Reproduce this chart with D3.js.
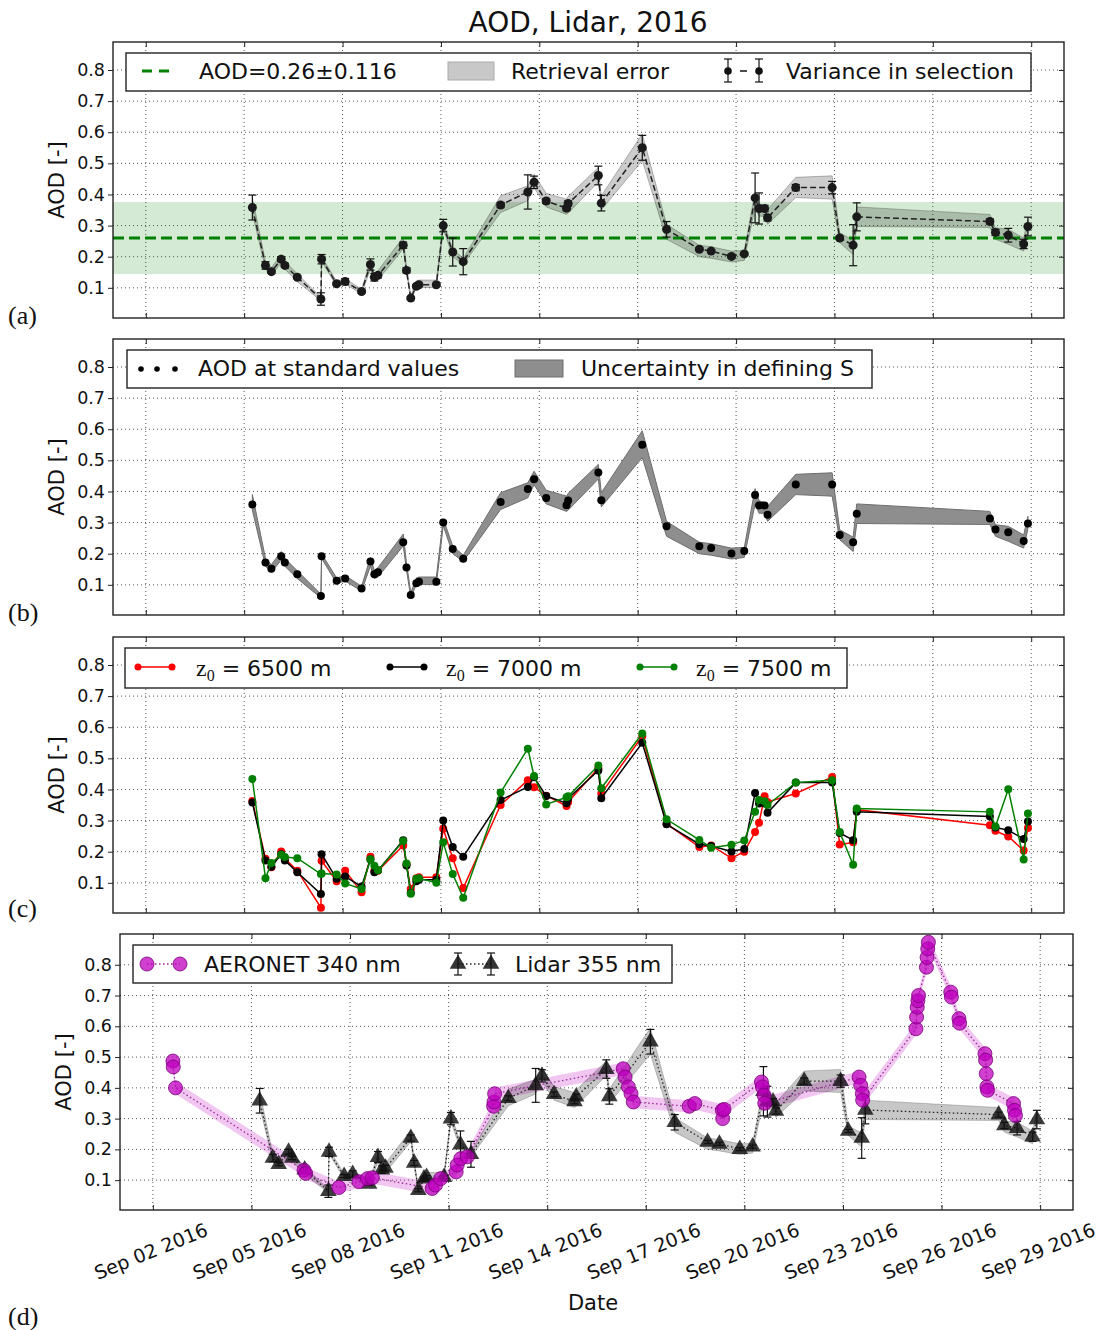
<!DOCTYPE html>
<html>
<head>
<meta charset="utf-8">
<script src="https://cdn.jsdelivr.net/npm/d3@7"></script>
<style>
  body { margin: 0; background: #fff; }
  svg { font-family: "DejaVu Sans", sans-serif; }
</style>
</head>
<body>
<svg id="chart" width="1100" height="1330"></svg>
<script>
// lidar retrievals, fractional day of September 2016
const lidarDay = [5.25, 5.65, 5.83, 6.13, 6.24, 6.62, 7.34, 7.36, 7.82, 8.08,
  8.58, 8.85, 8.97, 9.08, 9.85, 9.95, 10.08, 10.25, 10.33, 10.86,
  11.07, 11.36, 11.68, 12.82, 13.65, 13.84, 14.21, 14.83, 14.88, 15.80,
  15.89, 17.14, 17.88, 18.88, 19.24, 19.86, 20.25, 20.58, 20.70, 20.87,
  20.96, 21.82, 22.93, 23.16, 23.57, 23.68, 27.74, 27.91, 28.30, 28.77, 28.90];
// z0 = 7000 m (standard)
const lidarAod = [0.358, 0.172, 0.152, 0.192, 0.172, 0.134, 0.064, 0.192, 0.113, 0.120,
  0.088, 0.175, 0.134, 0.140, 0.237, 0.156, 0.067, 0.105, 0.110, 0.110,
  0.300, 0.215, 0.184, 0.366, 0.408, 0.439, 0.379, 0.356, 0.371, 0.461,
  0.372, 0.550, 0.288, 0.224, 0.218, 0.201, 0.209, 0.389, 0.355, 0.355,
  0.325, 0.422, 0.422, 0.260, 0.237, 0.328, 0.313, 0.278, 0.269, 0.241, 0.297];
const lidarVar = [0.040, 0.012, 0.005, 0.008, 0.005, 0.005, 0.020, 0.015, 0.005, 0.010,
  0.005, 0.018, 0.012, 0.008, 0.010, 0.008, 0.005, 0.005, 0.005, 0.005,
  0.020, 0.045, 0.042, 0.008, 0.055, 0.020, 0.008, 0.008, 0.008, 0.030,
  0.025, 0.040, 0.025, 0.005, 0.005, 0.005, 0.005, 0.080, 0.050, 0.010,
  0.010, 0.010, 0.020, 0.005, 0.066, 0.045, 0.008, 0.010, 0.022, 0.015, 0.030];
const errLow = [0.340, 0.160, 0.140, 0.180, 0.160, 0.120, 0.058, 0.185, 0.105, 0.112,
  0.080, 0.160, 0.120, 0.125, 0.225, 0.148, 0.060, 0.100, 0.102, 0.100,
  0.290, 0.200, 0.175, 0.342, 0.380, 0.422, 0.360, 0.336, 0.340, 0.440,
  0.350, 0.509, 0.256, 0.200, 0.195, 0.183, 0.188, 0.360, 0.330, 0.330,
  0.304, 0.390, 0.385, 0.245, 0.207, 0.297, 0.294, 0.256, 0.240, 0.218, 0.280];
const errHigh = [0.390, 0.185, 0.165, 0.207, 0.185, 0.145, 0.070, 0.200, 0.122, 0.130,
  0.095, 0.188, 0.145, 0.155, 0.263, 0.170, 0.075, 0.122, 0.125, 0.125,
  0.312, 0.225, 0.195, 0.396, 0.428, 0.465, 0.404, 0.385, 0.394, 0.487,
  0.396, 0.595, 0.304, 0.237, 0.232, 0.218, 0.220, 0.409, 0.370, 0.365,
  0.352, 0.455, 0.460, 0.277, 0.253, 0.360, 0.336, 0.293, 0.288, 0.260, 0.320];
const aod6500 = [0.363, 0.177, 0.150, 0.201, 0.178, 0.139, 0.020, 0.171, 0.105, 0.139,
  0.070, 0.184, 0.139, 0.139, 0.220, 0.160, 0.080, 0.115, 0.118, 0.118,
  0.274, 0.179, 0.083, 0.350, 0.430, 0.407, 0.380, 0.347, 0.360, 0.468,
  0.387, 0.571, 0.290, 0.215, 0.220, 0.179, 0.200, 0.263, 0.293, 0.378,
  0.360, 0.387, 0.440, 0.223, 0.230, 0.335, 0.285, 0.267, 0.249, 0.204, 0.276];
const aod7500 = [0.434, 0.115, 0.164, 0.190, 0.183, 0.179, 0.128, 0.130, 0.127, 0.098,
  0.080, 0.176, 0.155, 0.140, 0.234, 0.162, 0.065, 0.113, 0.115, 0.100,
  0.230, 0.128, 0.052, 0.390, 0.531, 0.443, 0.352, 0.375, 0.378, 0.477,
  0.404, 0.580, 0.304, 0.238, 0.213, 0.222, 0.236, 0.328, 0.366, 0.362,
  0.350, 0.422, 0.430, 0.263, 0.158, 0.339, 0.328, 0.281, 0.401, 0.175, 0.323];

// AERONET 340 nm
const aeronetDay = [2.61, 2.62, 2.69, 6.60, 6.65, 7.66, 8.27, 8.53, 8.68, 10.50,
  10.60, 10.76, 11.23, 11.26, 11.37, 11.57, 12.37, 12.38, 12.40, 16.31,
  16.37, 16.47, 16.55, 16.62, 18.32, 18.49, 19.33, 19.34, 19.38, 20.52,
  20.55, 20.60, 20.62, 23.49, 23.54, 23.59, 23.60, 25.22, 25.24, 25.26,
  25.28, 25.30, 25.54, 25.56, 25.58, 25.60, 26.28, 26.30, 26.53, 26.55,
  27.32, 27.34, 27.36, 27.38, 27.40, 28.19, 28.22, 28.25];
const aeronetAod = [0.487, 0.468, 0.400, 0.132, 0.122, 0.076, 0.095, 0.105, 0.108, 0.073,
  0.084, 0.105, 0.127, 0.149, 0.170, 0.176, 0.340, 0.354, 0.381, 0.462,
  0.435, 0.403, 0.381, 0.354, 0.340, 0.349, 0.327, 0.300, 0.330, 0.419,
  0.403, 0.376, 0.350, 0.435, 0.408, 0.381, 0.360, 0.592, 0.630, 0.662,
  0.683, 0.700, 0.792, 0.824, 0.852, 0.873, 0.711, 0.695, 0.625, 0.610,
  0.511, 0.490, 0.446, 0.403, 0.392, 0.349, 0.327, 0.310];
const aeronetErr = 0.02;

const meanAod = 0.26, stdAod = 0.116;
const tickDays = [2, 5, 8, 11, 14, 17, 20, 23, 26, 29];
const tickLabels = ["Sep 02 2016", "Sep 05 2016", "Sep 08 2016", "Sep 11 2016", "Sep 14 2016",
  "Sep 17 2016", "Sep 20 2016", "Sep 23 2016", "Sep 26 2016", "Sep 29 2016"];
const yTicks = [0.1, 0.2, 0.3, 0.4, 0.5, 0.6, 0.7, 0.8];

const dayToDate = d => new Date(Date.UTC(2016, 8, 1) + (d - 1) * 864e5);
const lidar = lidarDay.map((d, i) => ({
  date: dayToDate(d), v: lidarAod[i], e: lidarVar[i], lo: errLow[i], hi: errHigh[i],
  r: aod6500[i], g: aod7500[i]
}));
const aeronet = aeronetDay.map((d, i) => ({ date: dayToDate(d), v: aeronetAod[i] }));

const svg = d3.select("#chart");

function makePanel(id, box, yMax) {
  const x = d3.scaleUtc().domain([dayToDate(1), dayToDate(30)]).range([box.left, box.right]);
  const y = d3.scaleLinear().domain([0.003, yMax]).range([box.bottom, box.top]);
  const root = svg.append("g");
  root.append("clipPath").attr("id", "clip-" + id)
    .append("rect").attr("x", box.left).attr("y", box.top)
    .attr("width", box.right - box.left).attr("height", box.bottom - box.top);

  // grid
  const grid = root.append("g").attr("stroke", "#555").attr("stroke-width", 1)
    .attr("stroke-dasharray", "1,3");
  grid.selectAll(".gx").data(tickDays).enter().append("line")
    .attr("x1", d => x(dayToDate(d))).attr("x2", d => x(dayToDate(d)))
    .attr("y1", box.top).attr("y2", box.bottom);
  grid.selectAll(".gy").data(yTicks).enter().append("line")
    .attr("x1", box.left).attr("x2", box.right)
    .attr("y1", d => y(d)).attr("y2", d => y(d));

  const plot = root.append("g").attr("clip-path", `url(#clip-${id})`);
  return { root, plot, x, y, box };
}

function finishPanel(p, label, labelY) {
  const { root, x, y, box } = p;
  const ax = root.append("g");
  const left = ax.append("g").attr("transform", `translate(${box.left},0)`)
    .call(d3.axisLeft(y).tickValues(yTicks).tickSize(5).tickPadding(3).tickFormat(d3.format(".1f")));
  left.select(".domain").remove();
  left.selectAll("text").attr("font-size", 17.5).attr("font-family", "DejaVu Sans").attr("fill", "#111");
  left.selectAll("line").attr("stroke", "#222");
  const right = ax.append("g").attr("transform", `translate(${box.right},0)`)
    .call(d3.axisRight(y).tickValues(yTicks).tickSize(-5).tickFormat(""));
  right.select(".domain").remove();
  const xt = tickDays.map(dayToDate);
  const top = ax.append("g").attr("transform", `translate(0,${box.top})`)
    .call(d3.axisTop(x).tickValues(xt).tickSize(-5).tickFormat(""));
  top.select(".domain").remove();
  const bot = ax.append("g").attr("transform", `translate(0,${box.bottom})`)
    .call(d3.axisBottom(x).tickValues(xt).tickSize(-5).tickFormat(""));
  bot.select(".domain").remove();
  ax.selectAll("line").attr("stroke", "#222");

  root.append("rect").attr("x", box.left).attr("y", box.top)
    .attr("width", box.right - box.left).attr("height", box.bottom - box.top)
    .attr("fill", "none").attr("stroke", "#222").attr("stroke-width", 1.4);

  const cy = (box.top + box.bottom) / 2;
  root.append("text").attr("transform", `translate(${box.left - 49},${cy}) rotate(-90)`)
    .attr("text-anchor", "middle").attr("font-size", 21).attr("fill", "#111").text("AOD [-]");

  root.append("text").attr("x", 8).attr("y", labelY)
    .attr("font-family", "Liberation Serif, serif").attr("font-size", 26).attr("fill", "#111").text(label);
}

function errorBars(g, data, x, y, cap) {
  const eb = g.append("g").attr("stroke", "#111").attr("stroke-width", 1.2);
  data.forEach(d => {
    const cx = x(d.date);
    eb.append("line").attr("x1", cx).attr("x2", cx).attr("y1", y(d.v - d.e)).attr("y2", y(d.v + d.e));
    eb.append("line").attr("x1", cx - cap).attr("x2", cx + cap).attr("y1", y(d.v - d.e)).attr("y2", y(d.v - d.e));
    eb.append("line").attr("x1", cx - cap).attr("x2", cx + cap).attr("y1", y(d.v + d.e)).attr("y2", y(d.v + d.e));
  });
}

function legendBox(x0, y0, w, h) {
  svg.append("rect").attr("x", x0).attr("y", y0).attr("width", w).attr("height", h)
    .attr("fill", "#fff").attr("stroke", "#222").attr("stroke-width", 1.4);
}
function legendText(x0, y0, t) {
  return svg.append("text").attr("x", x0).attr("y", y0).attr("font-size", 22).attr("fill", "#111").text(t);
}

// title
svg.append("text").attr("x", 588).attr("y", 32).attr("text-anchor", "middle")
  .attr("font-size", 28).attr("fill", "#111").text("AOD, Lidar, 2016");

// ---------- (a)
const pa = makePanel("a", { left: 113, right: 1064, top: 42, bottom: 318 }, 0.89);
pa.plot.append("rect").attr("x", pa.box.left).attr("width", pa.box.right - pa.box.left)
  .attr("y", pa.y(meanAod + stdAod)).attr("height", pa.y(meanAod - stdAod) - pa.y(meanAod + stdAod))
  .attr("fill", "#008000").attr("fill-opacity", 0.17);
pa.plot.append("path").datum(lidar)
  .attr("d", d3.area().x(d => pa.x(d.date)).y0(d => pa.y(d.lo)).y1(d => pa.y(d.hi)))
  .attr("fill", "#000").attr("fill-opacity", 0.2).attr("stroke", "#000").attr("stroke-opacity", 0.25);
pa.plot.append("line").attr("x1", pa.box.left).attr("x2", pa.box.right)
  .attr("y1", pa.y(meanAod)).attr("y2", pa.y(meanAod))
  .attr("stroke", "#008000").attr("stroke-width", 3).attr("stroke-dasharray", "11,5");
pa.plot.append("path").datum(lidar)
  .attr("d", d3.line().x(d => pa.x(d.date)).y(d => pa.y(d.v)))
  .attr("fill", "none").attr("stroke", "#222").attr("stroke-width", 1.5).attr("stroke-dasharray", "6,3");
errorBars(pa.plot, lidar, pa.x, pa.y, 4);
pa.plot.selectAll(".pt").data(lidar).enter().append("circle")
  .attr("cx", d => pa.x(d.date)).attr("cy", d => pa.y(d.v)).attr("r", 4.5).attr("fill", "#1a1a1a");
finishPanel(pa, "(a)", 324);

legendBox(126, 53, 905, 38);
svg.append("line").attr("x1", 142).attr("x2", 172).attr("y1", 71).attr("y2", 71)
  .attr("stroke", "#008000").attr("stroke-width", 3).attr("stroke-dasharray", "10,7");
legendText(199, 79, "AOD=0.26\u00b10.116");
svg.append("rect").attr("x", 448).attr("y", 62).attr("width", 46).attr("height", 18)
  .attr("fill", "#c8c8c8").attr("stroke", "#aaa");
legendText(511, 79, "Retrieval error");
[728, 759].forEach(cx => {
  svg.append("line").attr("x1", cx).attr("x2", cx).attr("y1", 59).attr("y2", 82).attr("stroke", "#111").attr("stroke-width", 1.2);
  svg.append("line").attr("x1", cx - 4).attr("x2", cx + 4).attr("y1", 59).attr("y2", 59).attr("stroke", "#111").attr("stroke-width", 1.2);
  svg.append("line").attr("x1", cx - 4).attr("x2", cx + 4).attr("y1", 82).attr("y2", 82).attr("stroke", "#111").attr("stroke-width", 1.2);
  svg.append("circle").attr("cx", cx).attr("cy", 71).attr("r", 3.8).attr("fill", "#111");
});
svg.append("line").attr("x1", 740).attr("x2", 747).attr("y1", 71).attr("y2", 71).attr("stroke", "#111").attr("stroke-width", 1.5);
legendText(786, 79, "Variance in selection");

// ---------- (b)
const pb = makePanel("b", { left: 113, right: 1064, top: 339, bottom: 615 }, 0.89);
pb.plot.append("path").datum(lidar)
  .attr("d", d3.area().x(d => pb.x(d.date)).y0(d => pb.y(d.lo)).y1(d => pb.y(d.hi)))
  .attr("fill", "#8e8e8e").attr("stroke", "#6e6e6e").attr("stroke-width", 1);
pb.plot.selectAll(".pt").data(lidar).enter().append("circle")
  .attr("cx", d => pb.x(d.date)).attr("cy", d => pb.y(d.v)).attr("r", 4).attr("fill", "#000");
finishPanel(pb, "(b)", 621);

legendBox(127, 350, 745, 38);
[141, 157, 175].forEach(cx => svg.append("circle").attr("cx", cx).attr("cy", 369).attr("r", 2.8).attr("fill", "#000"));
legendText(198, 376, "AOD at standard values");
svg.append("rect").attr("x", 515).attr("y", 360).attr("width", 48).attr("height", 17)
  .attr("fill", "#8e8e8e").attr("stroke", "#6e6e6e");
legendText(581, 376, "Uncertainty in defining S");

// ---------- (c)
const pc = makePanel("c", { left: 113, right: 1064, top: 637, bottom: 913 }, 0.89);
const series = [
  { key: "r", color: "#ff0000" },
  { key: "v", color: "#000000" },
  { key: "g", color: "#008000" }
];
series.forEach(s => {
  pc.plot.append("path").datum(lidar)
    .attr("d", d3.line().x(d => pc.x(d.date)).y(d => pc.y(d[s.key])))
    .attr("fill", "none").attr("stroke", s.color).attr("stroke-width", 1.5);
  pc.plot.selectAll(".p" + s.key).data(lidar).enter().append("circle")
    .attr("cx", d => pc.x(d.date)).attr("cy", d => pc.y(d[s.key])).attr("r", 4).attr("fill", s.color);
});
finishPanel(pc, "(c)", 917);

legendBox(125, 648, 722, 40);
const legC = [
  { x: 138, color: "#ff0000", t: " = 6500 m", tx: 196 },
  { x: 390, color: "#000000", t: " = 7000 m", tx: 446 },
  { x: 640, color: "#008000", t: " = 7500 m", tx: 696 }
];
legC.forEach(l => {
  svg.append("line").attr("x1", l.x).attr("x2", l.x + 34).attr("y1", 667).attr("y2", 667)
    .attr("stroke", l.color).attr("stroke-width", 1.5);
  [l.x, l.x + 34].forEach(cx => svg.append("circle").attr("cx", cx).attr("cy", 667).attr("r", 3.5).attr("fill", l.color));
  const t = svg.append("text").attr("x", l.tx).attr("y", 676).attr("font-size", 22).attr("fill", "#111");
  t.append("tspan").attr("font-family", "Liberation Serif, serif").attr("font-size", 24).text("z");
  t.append("tspan").attr("font-family", "Liberation Serif, serif").attr("font-size", 16).attr("dy", 5).text("0");
  t.append("tspan").attr("dy", -5).text("  = " + l.t.replace(" = ", ""));
});

// ---------- (d)
const pd = makePanel("d", { left: 120, right: 1073, top: 934, bottom: 1210 }, 0.9);
pd.plot.append("path").datum(aeronet)
  .attr("d", d3.area().x(d => pd.x(d.date)).y0(d => pd.y(d.v - aeronetErr)).y1(d => pd.y(d.v + aeronetErr)))
  .attr("fill", "#bf00bf").attr("fill-opacity", 0.22);
pd.plot.append("path").datum(lidar)
  .attr("d", d3.area().x(d => pd.x(d.date)).y0(d => pd.y(d.lo)).y1(d => pd.y(d.hi)))
  .attr("fill", "#000").attr("fill-opacity", 0.22).attr("stroke", "#000").attr("stroke-opacity", 0.2);
pd.plot.append("path").datum(aeronet)
  .attr("d", d3.line().x(d => pd.x(d.date)).y(d => pd.y(d.v)))
  .attr("fill", "none").attr("stroke", "#9a2a9a").attr("stroke-width", 1.3).attr("stroke-dasharray", "1.5,2.5");
pd.plot.append("path").datum(lidar)
  .attr("d", d3.line().x(d => pd.x(d.date)).y(d => pd.y(d.v)))
  .attr("fill", "none").attr("stroke", "#222").attr("stroke-width", 1.3).attr("stroke-dasharray", "1.5,2.5");
errorBars(pd.plot, lidar, pd.x, pd.y, 4);
const tri = d3.symbol().type(d3.symbolTriangle).size(120);
pd.plot.selectAll(".tri").data(lidar).enter().append("path")
  .attr("d", tri).attr("transform", d => `translate(${pd.x(d.date)},${pd.y(d.v)})`)
  .attr("fill", "#111").attr("fill-opacity", 0.82);
pd.plot.selectAll(".ae").data(aeronet).enter().append("circle")
  .attr("cx", d => pd.x(d.date)).attr("cy", d => pd.y(d.v)).attr("r", 7)
  .attr("fill", "#bf00bf").attr("fill-opacity", 0.75).attr("stroke", "#7a007a").attr("stroke-width", 0.8);
finishPanel(pd, "(d)", 1325);

// x tick labels under (d)
tickDays.forEach((d, i) => {
  svg.append("text")
    .attr("transform", `translate(${pd.x(dayToDate(d)) - 2},${1251}) rotate(-22)`)
    .attr("text-anchor", "middle").attr("dominant-baseline", "central")
    .attr("font-size", 19).attr("fill", "#111").text(tickLabels[i]);
});
svg.append("text").attr("x", 593).attr("y", 1310).attr("text-anchor", "middle")
  .attr("font-size", 21).attr("fill", "#111").text("Date");

legendBox(133, 945, 539, 38);
svg.append("line").attr("x1", 147).attr("x2", 180).attr("y1", 964).attr("y2", 964)
  .attr("stroke", "#9a2a9a").attr("stroke-width", 1.3).attr("stroke-dasharray", "1.5,2.5");
[147, 180].forEach(cx => svg.append("circle").attr("cx", cx).attr("cy", 964).attr("r", 7)
  .attr("fill", "#bf00bf").attr("fill-opacity", 0.75).attr("stroke", "#7a007a").attr("stroke-width", 0.8));
legendText(204, 972, "AERONET 340 nm");
svg.append("line").attr("x1", 458).attr("x2", 491).attr("y1", 964).attr("y2", 964)
  .attr("stroke", "#222").attr("stroke-width", 1.3).attr("stroke-dasharray", "1.5,2.5");
[458, 491].forEach(cx => {
  svg.append("line").attr("x1", cx).attr("x2", cx).attr("y1", 953).attr("y2", 975).attr("stroke", "#111").attr("stroke-width", 1.2);
  svg.append("line").attr("x1", cx - 4).attr("x2", cx + 4).attr("y1", 953).attr("y2", 953).attr("stroke", "#111").attr("stroke-width", 1.2);
  svg.append("line").attr("x1", cx - 4).attr("x2", cx + 4).attr("y1", 975).attr("y2", 975).attr("stroke", "#111").attr("stroke-width", 1.2);
  svg.append("path").attr("d", tri).attr("transform", `translate(${cx},964)`).attr("fill", "#111").attr("fill-opacity", 0.85);
});
legendText(515, 972, "Lidar 355 nm");
</script>
</body>
</html>
